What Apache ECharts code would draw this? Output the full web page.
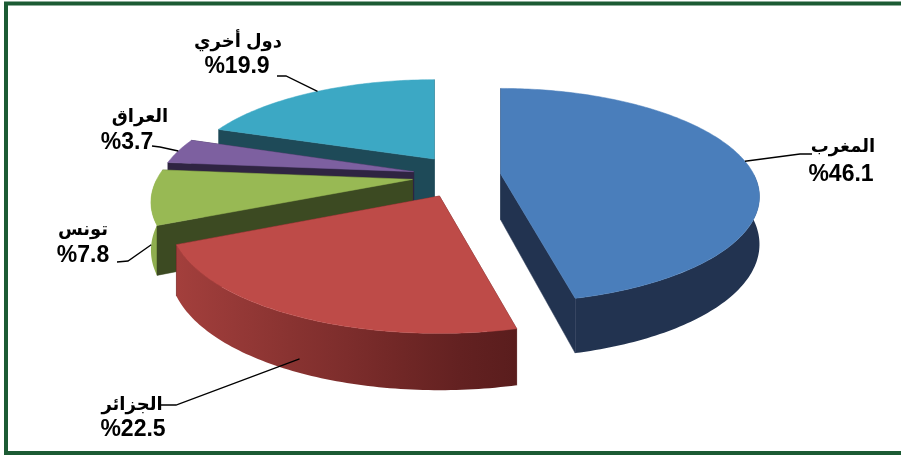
<!DOCTYPE html>
<html>
<head>
  <meta charset="utf-8">
  <script src="https://cdn.jsdelivr.net/npm/echarts@6/dist/echarts.min.js"></script>
  <style>
    html, body { margin: 0; padding: 0; background: #fff; }
    #chart { width: 901px; height: 455px; }
  </style>
</head>
<body>
<div id="chart"></div>
<script>
  // البيانات
  var names = ['المغرب', 'الجزائر', 'تونس', 'العراق', 'دول أخري'];
  var shares = [46.1, 22.5, 7.8, 3.7, 19.9];

  // الألوان والتنسيق
  var topColors = ['#4a7ebb', '#be4b48', '#98b954', '#7d60a0', '#3ca8c4'];
  var darkColors = ['#223350', '#5a1d1d', '#3c4a22', '#2f2442', '#1e4a58'];
  var explode = [0.15, 0.2, 0.2, 0.2, 0.2];
  var nameCenter = [[843, 147], [132, 405], [83, 230], [140, 117], [238, 42]];
  var valueCenter = [[841, 175], [133, 430], [83, 256], [127, 143], [237, 67]];
  var leaderStart = [[812, 154], [161, 405], [117, 262], [152, 146], [277, 76]];
  var leaderBend = [[800, 154], [176, 405], [128, 261], [160, 147], [286, 76]];
  var anchorDepth = [0, 0.75, 1, 0, 0];

  // شكل القرص ثلاثي الأبعاد
  var CX = 463, CY = 176, RX = 254, RY = 108, DEPTH = 46, PX = 0.22, PY = 0.2;
  var FONT = '"Liberation Sans", Arial, "DejaVu Sans", sans-serif';

  // ou, ov: إزاحة مركز الشريحة ; lu, lv: نقطة داخل الشريحة
  function proj(ou, ov, lu, lv, h) {
    var v = ov + lv;
    var sy = 1 + PY * v;
    return [CX + RX * (ou * (1 + PX * ov) + lu * (1 + PX * v)), CY + (RY * v + h * DEPTH) * sy];
  }

  function hex(c) {
    return [parseInt(c.substr(1, 2), 16), parseInt(c.substr(3, 2), 16), parseInt(c.substr(5, 2), 16)];
  }
  function mix(c1, c2, t) {
    var a = hex(c1), b = hex(c2);
    return 'rgb(' + a.map(function (x, k) { return Math.round(x + (b[k] - x) * t); }).join(',') + ')';
  }
  function wallColor(i, th) {
    var t = Math.min(1, Math.max(0, (th - 170) / 95));
    return mix(darkColors[i], topColors[i], t * 0.9);
  }

  var total = shares.reduce(function (s, v) { return s + v; }, 0);
  var data = [];
  var acc = 0;
  shares.forEach(function (v) {
    var a0 = acc / total * 360;
    acc += v;
    data.push([v, a0, acc / total * 360]);
  });

  // ترتيب الرسم من الخلف إلى الأمام
  var order = data.map(function (d, i) { return i; }).sort(function (p, q) {
    var mp = (data[p][1] + data[p][2]) / 2 * Math.PI / 180;
    var mq = (data[q][1] + data[q][2]) / 2 * Math.PI / 180;
    return -Math.cos(mp) + Math.cos(mq);
  });

  function renderSlice(params, api) {
    var i = params.dataIndex;
    var a0 = api.value(1), a1 = api.value(2);
    var midDeg = (a0 + a1) / 2;
    var mid = midDeg * Math.PI / 180;
    var ou = explode[i] * Math.sin(mid), ov = -explode[i] * Math.cos(mid);
    function pt(th, r, h) {
      var t = th * Math.PI / 180;
      return proj(ou, ov, r * Math.sin(t), -r * Math.cos(t), h);
    }
    var z = order.indexOf(i) * 20;
    var children = [];
    function add(el) { el.z2 = z + children.length; children.push(el); }
    function radial(th) {
      return {
        type: 'polygon',
        shape: { points: [pt(th, 0, 0), pt(th, 1, 0), pt(th, 1, 1), pt(th, 0, 1)] },
        style: { fill: darkColors[i], stroke: darkColors[i], lineWidth: 0.5 }
      };
    }
    var startVis = a0 > 180 && a0 < 360;
    var endVis = a1 > 0 && a1 < 180;
    if (!startVis) add(radial(a0));
    if (!endVis) add(radial(a1));

    // الجدار الأمامي
    var ws = Math.max(a0, 90), we = Math.min(a1, 270);
    if (we > ws) {
      var topPts = [], botPts = [];
      var n = Math.ceil(we - ws);
      for (var k = 0; k <= n; k++) {
        var th = ws + (we - ws) * k / n;
        topPts.push(pt(th, 1, 0));
        botPts.unshift(pt(th, 1, 1));
      }
      var xl = pt(we, 1, 0)[0], xr = pt(ws, 1, 0)[0];
      var stops = [];
      for (var s = 0; s <= 6; s++) {
        stops.push({ offset: s / 6, color: wallColor(i, we - (we - ws) * s / 6) });
      }
      add({
        type: 'polygon',
        shape: { points: topPts.concat(botPts) },
        style: {
          fill: { type: 'linear', x: xl, y: 0, x2: xr, y2: 0, global: true, colorStops: stops }
        }
      });
    }
    if (startVis) add(radial(a0));
    if (endVis) add(radial(a1));

    // الوجه العلوي
    var face = [pt(a0, 0, 0)];
    var m = Math.ceil(a1 - a0);
    for (var j = 0; j <= m; j++) face.push(pt(a0 + (a1 - a0) * j / m, 1, 0));
    add({
      type: 'polygon',
      shape: { points: face },
      style: { fill: topColors[i], stroke: topColors[i], lineWidth: 0.5 }
    });

    // التسميات
    children.push({
      type: 'polyline', z2: 500,
      shape: { points: [leaderStart[i], leaderBend[i], pt(midDeg, 1, anchorDepth[i])] },
      style: { stroke: '#000', lineWidth: 1.3, fill: null }
    });
    children.push({
      type: 'text', z2: 500, x: nameCenter[i][0], y: nameCenter[i][1],
      style: { text: names[i], fill: '#000', font: 'bold 18px ' + FONT, align: 'center', verticalAlign: 'middle' }
    });
    children.push({
      type: 'text', z2: 500, x: valueCenter[i][0], y: valueCenter[i][1],
      style: { text: '%' + api.value(0).toFixed(1), fill: '#000', font: 'bold 23px ' + FONT, align: 'center', verticalAlign: 'middle' }
    });
    return { type: 'group', children: children };
  }

  var chart = echarts.init(document.getElementById('chart'));
  chart.setOption({
    animation: false,
    backgroundColor: '#fff',
    graphic: [{
      type: 'rect',
      shape: { x: 6, y: 3.5, width: 900, height: 449.5 },
      style: { fill: null, stroke: '#1c5b34', lineWidth: 4 },
      silent: true
    }],
    series: [{
      type: 'custom',
      coordinateSystem: 'none',
      silent: true,
      renderItem: renderSlice,
      data: data
    }]
  });
</script>
</body>
</html>
